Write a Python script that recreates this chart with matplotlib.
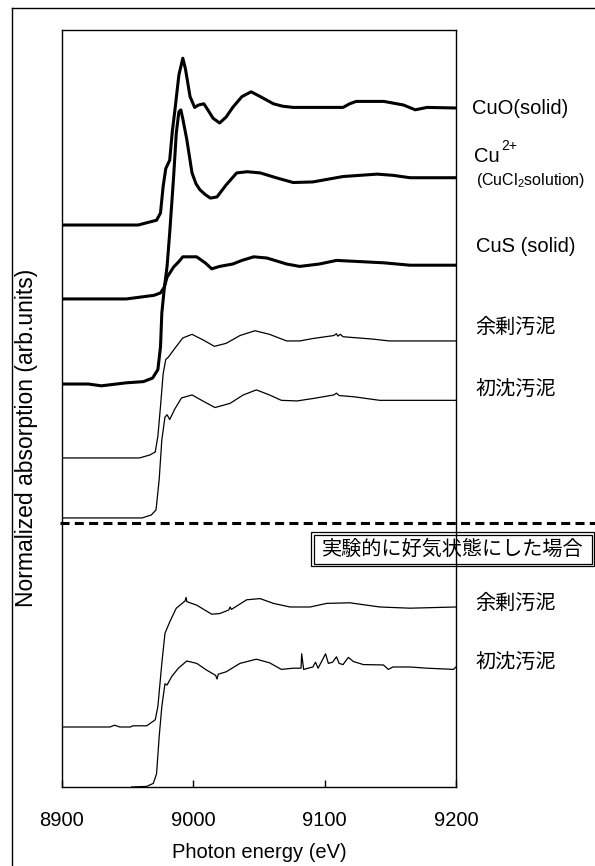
import matplotlib
matplotlib.use("Agg")
import matplotlib.pyplot as plt
from matplotlib.lines import Line2D
from matplotlib.patches import Rectangle

plt.rcParams['font.family'] = ['Liberation Sans', 'Noto Sans CJK JP', 'DejaVu Sans']
plt.rcParams['mathtext.fontset'] = 'custom'
plt.rcParams['mathtext.rm'] = 'Liberation Sans'
plt.rcParams['mathtext.it'] = 'Liberation Sans:italic'
plt.rcParams['lines.scale_dashes'] = False

# ---------------- data (normalized absorption, pre-edge = 0) ----------------
cuo_E = [8900, 8940, 8958, 8972, 8975, 8977, 8979, 8982, 8984, 8986, 8989, 8992, 8994, 8997.5,
         9001, 9004, 9008, 9011, 9015, 9020, 9025, 9030, 9037, 9044, 9051, 9061, 9068, 9076,
         9114, 9119, 9124, 9145, 9160, 9169, 9178, 9200]
cuo_mu = [0, 0, 0, 0.04, 0.10, 0.32, 0.47, 0.54, 0.78, 0.96, 1.25, 1.39, 1.30, 1.07,
          0.98, 1.00, 1.01, 0.96, 0.89, 0.85, 0.90, 0.98, 1.07, 1.11, 1.07, 1.01, 0.99, 0.98,
          0.98, 1.01, 1.03, 1.03, 1.00, 0.96, 0.98, 0.975]

cu2_E = [8900, 8949, 8970, 8975, 8978, 8980, 8982, 8985, 8987, 8989, 8990.5, 8992, 8995, 8999,
         9002, 9005, 9009, 9013, 9018, 9025, 9033, 9041, 9051, 9063, 9076, 9091, 9114, 9140,
         9152, 9165, 9200]
cu2_mu = [0, 0, 0.03, 0.05, 0.10, 0.27, 0.55, 1.02, 1.38, 1.56, 1.575, 1.50, 1.33, 1.05,
          0.96, 0.91, 0.87, 0.84, 0.85, 0.95, 1.05, 1.06, 1.05, 1.01, 0.97, 0.975, 1.02, 1.04,
          1.03, 1.01, 1.01]

cus_E = [8900, 8920, 8930, 8949, 8962, 8969, 8973, 8975, 8976, 8978, 8980, 8985, 8989, 8992,
         9002.5, 9009, 9014, 9020, 9030, 9037, 9046, 9056, 9071, 9081, 9096, 9109, 9127,
         9145, 9165, 9178, 9200]
cus_mu = [0, 0, -0.015, 0.01, 0.02, 0.05, 0.12, 0.31, 0.59, 0.81, 0.89, 0.975, 1.02, 1.06,
          1.06, 1.01, 0.96, 0.98, 1.00, 1.03, 1.06, 1.05, 1.00, 0.98, 1.00, 1.03, 1.02,
          1.01, 0.99, 0.99, 0.99]

yojo1_E = [8900, 8959, 8967, 8971, 8973, 8975, 8977, 8979, 8981, 8985, 8992, 8999, 9008, 9016,
           9025, 9035.5, 9047, 9058, 9071, 9081, 9091, 9107, 9109, 9110, 9112, 9114, 9137,
           9149, 9200]
yojo1_mu = [0, 0, 0.025, 0.05, 0.18, 0.43, 0.70, 0.82, 0.84, 0.90, 1.00, 1.03, 0.98, 0.93,
            0.955, 1.02, 1.06, 1.03, 0.975, 0.975, 0.995, 1.02, 1.035, 1.015, 1.03, 1.01, 0.99,
            0.975, 0.975]

shochin1_E = [8900, 8961, 8968, 8971.6, 8974, 8976, 8978.4, 8980, 8982, 8986, 8991, 8999, 9008,
              9016.5, 9028, 9038, 9048, 9058, 9067, 9079, 9091, 9107, 9109, 9111, 9122, 9142, 9200]
shochin1_mu = [0, 0, 0.025, 0.067, 0.32, 0.65, 0.84, 0.86, 0.82, 0.91, 1.00, 1.025, 0.97,
               0.92, 0.955, 1.025, 1.067, 1.025, 0.98, 0.975, 0.995, 1.025, 1.04, 1.02, 1.01,
               0.98, 0.98]

yojo2_E = [8900, 8936.5, 8940, 8944, 8952, 8954, 8964.5, 8971, 8973, 8976, 8978.4, 8982, 8987,
           8993.7, 8994.5, 8995, 9002.6, 9014, 9020, 9027, 9028, 9029, 9040.6, 9050.8, 9061,
           9073.6, 9089, 9101.5, 9119, 9142, 9165, 9200]
yojo2_mu = [0, 0, 0.015, 0, 0, 0.01, 0.01, 0.06, 0.17, 0.53, 0.78, 0.875, 0.99,
            1.05, 1.08, 1.045, 1.015, 0.94, 0.945, 0.975, 1.0, 0.98, 1.06, 1.07, 1.03,
            1.00, 1.00, 1.03, 1.035, 1.00, 0.99, 1.00]

shochin2_E = [8953, 8964.5, 8969.5, 8972, 8974, 8976, 8978.4, 8980, 8983.5, 8988.6, 8995,
              9002.6, 9010, 9017, 9018, 9019, 9025, 9035.5, 9048, 9058, 9067, 9076, 9082,
              9082.5, 9084, 9091, 9093, 9095, 9100.7, 9102.8, 9106, 9109, 9111, 9114, 9118,
              9122, 9129.5, 9144.7, 9148.5, 9152, 9165, 9178, 9198, 9200]
shochin2_mu = [0, 0.005, 0.03, 0.11, 0.42, 0.67, 0.86, 0.85, 0.92, 0.99, 1.05,
               1.03, 0.975, 0.93, 0.90, 0.94, 0.96, 1.03, 1.065, 1.035, 0.98, 0.99, 0.99,
               1.11, 0.98, 1.00, 1.04, 0.99, 1.11, 1.03, 1.04, 1.085, 1.03, 1.02, 1.08,
               1.045, 1.02, 1.017, 0.98, 1.00, 1.00, 0.99, 0.98, 1.00]

offsets = [4.683, 4.067, 3.358, 2.742, 2.242, 0.5, 0.0]
labels = ["CuO(solid)", "Cu", "CuS (solid)", "余剰汚泥", "初沈汚泥", "余剰汚泥", "初沈汚泥"]
box_label = "実験的に好気状態にした場合"
xticks = [8900, 9000, 9100, 9200]
sep_level = 2.2

series = [(cuo_E, cuo_mu), (cu2_E, cu2_mu), (cus_E, cus_mu), (yojo1_E, yojo1_mu),
          (shochin1_E, shochin1_mu), (yojo2_E, yojo2_mu), (shochin2_E, shochin2_mu)]
widths = [2.2, 2.2, 2.2, 0.9, 0.9, 0.9, 0.9]

# ---------------- figure ----------------
W, H = 595, 866
fig = plt.figure(figsize=(W / 100, H / 100), dpi=100)

def fx(px):
    return px / W

def fy(py):
    return 1 - py / H

ax = fig.add_axes([fx(62), fy(787), fx(456) - fx(62), fy(30) - fy(787)])
for (E, mu), off, lw in zip(series, offsets, widths):
    ax.plot(E, [m + off for m in mu], color='black', lw=lw, solid_joinstyle='round')

ax.set_xlim(8900, 9200)
ax.set_ylim(0, 6.308)
ax.set_xticks(xticks)
ax.set_xticklabels([str(t) for t in xticks])
ax.set_yticks([])
ax.tick_params(axis='x', direction='in', length=5, width=1, pad=17, labelsize=14.5)
for s in ax.spines.values():
    s.set_linewidth(1.0)

ax.plot([-0.006, 1.36], [sep_level, sep_level], transform=ax.get_yaxis_transform(),
        color='black', lw=2.2, dashes=(6.5, 3.8), clip_on=False)

fig.text(fx(259), fy(852), "Photon energy (eV)", ha='center', va='center', fontsize=14.5)
fig.text(fx(27), fy(438), "Normalized absorption (arb.units)", ha='center', va='center',
         rotation=90, fontsize=16.5)

# labels
lab_pos = [(472, 108), (474, 156), (476, 246), (475, 327), (475, 390), (475, 603), (475, 663)]
for lab, (px, py) in zip(labels, lab_pos):
    fig.text(fx(px), fy(py), lab, ha='left', va='center', fontsize=14.5)
fig.text(fx(501), fy(146), "2+", ha='left', va='center', fontsize=10)
fig.text(fx(476), fy(181), "(CuCl$_{\\mathregular{2}}$solution)", ha='left', va='center',
         fontsize=11.5)

# boxed note with double border
fig.add_artist(Rectangle((fx(311), fy(566)), fx(594) - fx(311), fy(532) - fy(566),
                         transform=fig.transFigure, fill=False, lw=0.9, ec='black'))
fig.add_artist(Rectangle((fx(313.5), fy(563.5)), fx(591.5) - fx(313.5), fy(534.5) - fy(563.5),
                         transform=fig.transFigure, fill=False, lw=0.9, ec='black'))
fig.text(fx(452.5), fy(549), box_label, ha='center', va='center', fontsize=14.5)

# outer frame (left and top edges)
fig.add_artist(Line2D([fx(12), fx(12)], [fy(8), 0], transform=fig.transFigure, color='black', lw=1.0))
fig.add_artist(Line2D([fx(12), 1], [fy(8), fy(8)], transform=fig.transFigure, color='black', lw=1.0))

fig.savefig("out.png", dpi=100)
